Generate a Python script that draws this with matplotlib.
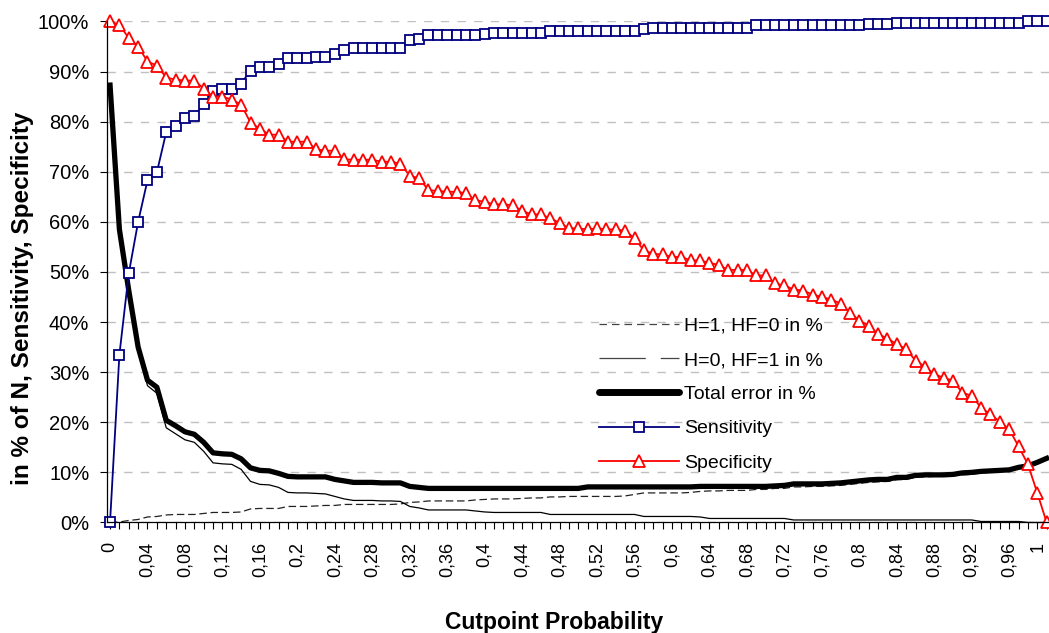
import numpy as np
import matplotlib
matplotlib.use('Agg')
import matplotlib.pyplot as plt
from matplotlib.lines import Line2D
from matplotlib.ticker import FixedLocator

plt.rcParams['font.family'] = ['Liberation Sans', 'DejaVu Sans']

# cutpoint categories 0, 0.01, ... 1
cutpoints = np.round(np.arange(101) * 0.01, 2)

sensitivity = [
    0.0, 33.5, 49.7, 60.0, 68.3, 69.9, 77.9, 79.2, 80.7, 81.2,
    83.5, 86.2, 86.5, 86.5, 87.6, 90.2, 91.0, 91.0, 91.5, 92.7,
    92.8, 92.8, 93.0, 93.0, 93.6, 94.4, 94.7, 94.7, 94.7, 94.7,
    94.7, 94.7, 96.3, 96.4, 97.2, 97.2, 97.2, 97.2, 97.2, 97.2,
    97.4, 97.7, 97.7, 97.7, 97.7, 97.7, 97.7, 98.1, 98.1, 98.1,
    98.1, 98.1, 98.1, 98.1, 98.1, 98.1, 98.1, 98.5, 98.7, 98.7,
    98.7, 98.7, 98.7, 98.7, 98.7, 98.7, 98.7, 98.7, 98.7, 99.2,
    99.2, 99.2, 99.2, 99.2, 99.2, 99.2, 99.2, 99.2, 99.2, 99.2,
    99.2, 99.4, 99.4, 99.4, 99.6, 99.6, 99.6, 99.6, 99.6, 99.6,
    99.6, 99.6, 99.6, 99.6, 99.6, 99.6, 99.6, 99.6, 100.0, 100.0,
    100.0]

specificity = [
    100.0, 99.3, 96.7, 95.0, 92.0, 91.2, 88.8, 88.4, 88.2, 88.2,
    86.6, 85.0, 85.0, 84.4, 83.4, 79.8, 78.6, 77.4, 77.4, 76.0,
    76.0, 76.0, 74.5, 74.2, 74.2, 72.5, 72.4, 72.4, 72.4, 72.0,
    72.0, 71.6, 69.2, 68.7, 66.3, 66.2, 66.0, 66.0, 65.7, 64.3,
    64.0, 63.5, 63.5, 63.3, 62.2, 61.5, 61.5, 60.7, 59.8, 58.7,
    58.7, 58.5, 58.7, 58.5, 58.5, 58.2, 56.7, 54.3, 53.6, 53.5,
    53.0, 53.0, 52.3, 52.3, 51.8, 51.4, 50.4, 50.4, 50.4, 49.3,
    49.3, 47.7, 47.3, 46.5, 46.3, 45.5, 45.0, 44.5, 43.7, 41.9,
    40.3, 39.3, 37.6, 36.7, 35.6, 34.6, 32.3, 31.1, 29.6, 28.9,
    28.3, 25.9, 25.3, 22.9, 21.6, 20.1, 18.6, 15.2, 11.6, 5.9,
    0.0]

h1_hf0 = [
    0.0, 0.1, 0.4, 0.6, 1.1, 1.2, 1.5, 1.6, 1.6, 1.6,
    1.8, 2.0, 2.0, 2.0, 2.1, 2.7, 2.8, 2.8, 2.8, 3.2,
    3.2, 3.2, 3.3, 3.4, 3.4, 3.6, 3.6, 3.6, 3.6, 3.6,
    3.6, 3.7, 4.0, 4.1, 4.3, 4.3, 4.3, 4.3, 4.3, 4.5,
    4.6, 4.7, 4.7, 4.7, 4.8, 4.9, 4.9, 5.1, 5.1, 5.2,
    5.2, 5.2, 5.2, 5.2, 5.2, 5.3, 5.6, 5.9, 5.9, 5.9,
    5.9, 5.9, 6.0, 6.2, 6.3, 6.3, 6.4, 6.4, 6.4, 6.6,
    6.6, 6.8, 6.8, 7.1, 7.1, 7.2, 7.2, 7.3, 7.4, 7.6,
    7.8, 8.0, 8.1, 8.2, 8.5, 8.6, 9.0, 9.1, 9.2, 9.3,
    9.3, 9.5, 9.6, 9.9, 10.0, 10.2, 10.3, 10.8, 11.2, 11.9,
    12.7]

h0_hf1 = [
    87.3, 58.4, 45.9, 34.4, 27.3, 25.8, 18.9, 17.7, 16.5, 16.0,
    14.2, 11.9, 11.7, 11.6, 10.6, 8.2, 7.6, 7.5, 7.0, 6.0,
    5.9, 5.9, 5.8, 5.7, 5.2, 4.7, 4.4, 4.4, 4.4, 4.3,
    4.3, 4.2, 3.2, 2.9, 2.5, 2.5, 2.5, 2.5, 2.5, 2.3,
    2.1, 2.0, 2.0, 2.0, 2.0, 2.0, 2.0, 1.6, 1.6, 1.6,
    1.6, 1.6, 1.6, 1.6, 1.6, 1.6, 1.6, 1.2, 1.2, 1.2,
    1.2, 1.2, 1.2, 1.1, 0.8, 0.8, 0.8, 0.8, 0.8, 0.8,
    0.8, 0.8, 0.8, 0.5, 0.5, 0.5, 0.5, 0.5, 0.5, 0.5,
    0.5, 0.5, 0.5, 0.5, 0.5, 0.5, 0.5, 0.5, 0.5, 0.5,
    0.5, 0.5, 0.5, 0.2, 0.2, 0.2, 0.2, 0.2, 0.0, 0.0,
    0.0]

total_error = [
    87.3, 58.5, 46.3, 35.0, 28.4, 27.0, 20.4, 19.3, 18.1, 17.6,
    16.0, 13.9, 13.7, 13.6, 12.7, 10.9, 10.4, 10.3, 9.8, 9.2,
    9.1, 9.1, 9.1, 9.1, 8.6, 8.3, 8.0, 8.0, 8.0, 7.9,
    7.9, 7.9, 7.2, 7.0, 6.8, 6.8, 6.8, 6.8, 6.8, 6.8,
    6.8, 6.8, 6.8, 6.8, 6.8, 6.8, 6.8, 6.8, 6.8, 6.8,
    6.8, 7.1, 7.1, 7.1, 7.1, 7.1, 7.1, 7.1, 7.1, 7.1,
    7.1, 7.1, 7.1, 7.2, 7.2, 7.2, 7.2, 7.2, 7.2, 7.2,
    7.2, 7.3, 7.4, 7.7, 7.7, 7.7, 7.7, 7.8, 7.9, 8.1,
    8.3, 8.5, 8.6, 8.6, 9.0, 9.0, 9.4, 9.5, 9.5, 9.5,
    9.6, 9.9, 10.0, 10.2, 10.3, 10.4, 10.5, 11.0, 11.3, 12.0,
    12.8]

tick_labels = ['0', '0,04', '0,08', '0,12', '0,16', '0,2', '0,24', '0,28',
               '0,32', '0,36', '0,4', '0,44', '0,48', '0,52', '0,56', '0,6',
               '0,64', '0,68', '0,72', '0,76', '0,8', '0,84', '0,88', '0,92',
               '0,96', '1']
tick_pos = np.round(np.arange(len(tick_labels)) * 0.04, 2)

fig = plt.figure(figsize=(10.49, 6.33), dpi=100)
ax = fig.add_axes([0.1023, 0.1746, 0.8977, 0.7915])

ax.plot(cutpoints, h1_hf0, color='#222222', lw=0.9, dashes=(6, 3), clip_on=False)
ax.plot(cutpoints, h0_hf1, color='black', lw=0.9, clip_on=False)
ax.plot(cutpoints, total_error, color='black', lw=3.8, clip_on=False,
        solid_joinstyle='round')
ax.plot(cutpoints, sensitivity, color='#000080', lw=1.3, marker='s', ms=6.8,
        mfc='white', mec='#000080', mew=1.3, clip_on=False)
ax.plot(cutpoints, specificity, color='#ff0000', lw=1.3, marker='^', ms=8,
        mfc='white', mec='#ff0000', mew=1.3, clip_on=False)

ax.set_xlim(-0.0029, 1.0025)
ax.set_ylim(0, 100)

ax.set_yticks(range(0, 101, 10))
ax.set_yticklabels(['%d%%' % v for v in range(0, 101, 10)], fontsize=14.5)
ax.grid(axis='y', color='#c0c0c0', lw=1, dashes=(6, 6))
ax.set_axisbelow(True)

ax.xaxis.set_major_locator(FixedLocator(tick_pos))
ax.set_xticklabels(tick_labels, rotation=90, fontsize=13, va='top', ha='center')
ax.get_xticklabels()[-1].set_ha('right')
ax.xaxis.set_minor_locator(FixedLocator(cutpoints))
ax.tick_params(axis='x', which='both', direction='out', length=5, width=0.8, pad=9)
ax.tick_params(axis='y', direction='out', length=5, width=0.8, pad=8)

for s in ['top', 'right']:
    ax.spines[s].set_visible(False)
for s in ['left', 'bottom']:
    ax.spines[s].set_linewidth(0.9)

ax.set_xlabel('Cutpoint Probability', fontsize=16.5, fontweight='bold')
ax.xaxis.set_label_coords(0.474, -0.20)
ax.xaxis.label.set_va('center')
ax.set_ylabel('in % of N, Sensitivity, Specificity', fontsize=17.5, fontweight='bold')
ax.yaxis.set_label_coords(-0.0904, 0.447)
ax.yaxis.label.set_va('center')

handles = [
    Line2D([], [], color='#444444', lw=0.9, dashes=(6, 4)),
    Line2D([], [], color='#444444', lw=0.9, dashes=(37, 12)),
    Line2D([], [], color='black', lw=5, solid_capstyle='round'),
    Line2D([], [], color='#000080', lw=1.3, marker='s', ms=7, mfc='white',
           mec='#000080', mew=1.3),
    Line2D([], [], color='#ff0000', lw=1.3, marker='^', ms=8, mfc='white',
           mec='#ff0000', mew=1.3),
]
labels = ['H=1, HF=0 in %', 'H=0, HF=1 in %', 'Total error in %',
          'Sensitivity', 'Specificity']
ax.legend(handles, labels, loc='center left', bbox_to_anchor=(0.522, 0.2555),
          frameon=False, fontsize=14, handlelength=4.1, handletextpad=0.3,
          labelspacing=0.85, borderpad=0, borderaxespad=0, numpoints=1)

plt.savefig('out.png', dpi=100)
